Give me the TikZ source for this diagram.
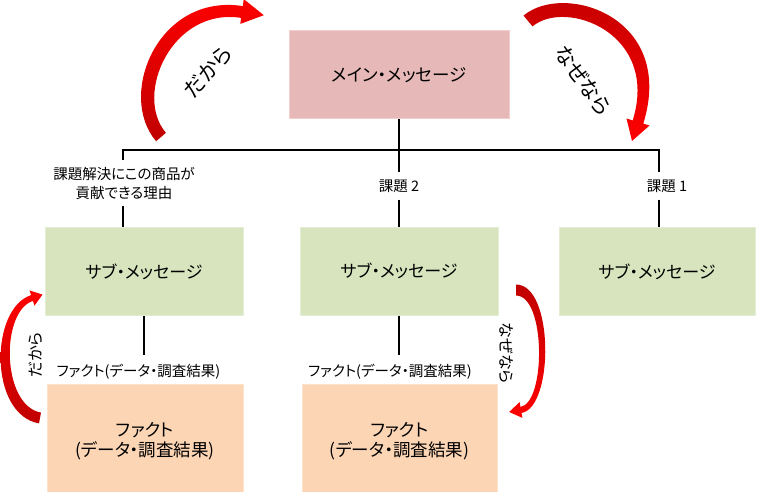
\documentclass[tikz,border=0pt]{standalone}
\usepackage{fontspec}
\setmainfont{Noto Sans CJK JP}[RawFeature={+palt}]
\usetikzlibrary{calc}
\definecolor{mainfill}{HTML}{E6B9B8}
\definecolor{mainline}{HTML}{F2CFCF}
\definecolor{subfill}{HTML}{D7E4BD}
\definecolor{subline}{HTML}{E4ECD4}
\definecolor{factfill}{HTML}{FCD5B5}
\definecolor{factline}{HTML}{FDE2CC}
\definecolor{arrdark}{HTML}{C00000}
\definecolor{arrlight}{HTML}{FF0000}
\begin{document}
\begin{tikzpicture}[x=1pt,y=-1pt,
  mainbox/.style={draw=mainline, fill=mainfill, line width=1pt, inner sep=0pt,
    minimum width=220pt, minimum height=88pt, font=\fontsize{17.5}{20}\selectfont},
  subbox/.style={draw=subline, fill=subfill, line width=1pt, inner sep=0pt,
    minimum width=#1, minimum height=88pt, font=\fontsize{17}{20}\selectfont},
  factbox/.style={draw=factline, fill=factfill, line width=1pt, inner sep=0pt,
    minimum width=196pt, minimum height=114pt, align=center,
    font=\fontsize{17.5}{20}\selectfont},
  lbl/.style={inner xsep=0pt, inner ysep=7pt, align=center,
    font=\fontsize{14.5}{19}\selectfont},
  conn/.style={line width=1.5pt, black},
  arrtxt/.style={inner sep=0pt, font=\fontsize{#1}{#1}\selectfont}
]
\fill[white] (0,0) rectangle (757,492);
\useasboundingbox (0,0) rectangle (757,492);

% boxes
\node[mainbox] (main) at (399,75) {メイン・メッセージ};
\node[subbox=198pt] (sub1) at (144,271.5) {サブ・メッセージ};
\node[subbox=198pt] (sub2) at (399,271) {サブ・メッセージ};
\node[subbox=196pt] (sub3) at (657,271.5) {サブ・メッセージ};
\node[factbox] (fact1) at (145,441) {ファクト\\(データ・調査結果)};
\node[factbox, minimum width=195pt] (fact2) at (399.5,441) {ファクト\\(データ・調査結果)};

% labels
\node[lbl] (lab1) at (124,183) {課題解決にこの商品が\\貢献できる理由};
\node[lbl] (lab2) at (399,186) {課題 2};
\node[lbl] (lab3) at (667,186) {課題 1};
\node[lbl, inner ysep=9pt] (flab1) at (138.5,372) {ファクト(データ・調査結果)};
\node[lbl, inner ysep=9pt] (flab2) at (390,372) {ファクト(データ・調査結果)};

% connectors
\coordinate (j) at (399,150);
\coordinate (jl) at (123,150);
\coordinate (jr) at (659,150);
\draw[conn] (main.south) -- (j);
\draw[conn] (jl |- lab1.north) -- (jl) -- (jr) -- (jr |- lab3.north);
\draw[conn] (j) -- (j |- lab2.north);
\draw[conn] (jl |- lab1.south) -- (jl |- sub1.north);
\draw[conn] (j |- lab2.south) -- (sub2.north);
\draw[conn] (jr |- lab3.south) -- (jr |- sub3.north);
\draw[conn] (sub1.south) -- (sub1.south |- flab1.north);
\draw[conn] (sub2.south) -- (sub2.south |- flab2.north);

% big arrow: だから
\shade[top color=arrlight, bottom color=arrdark]
  (156.1,141.2) .. controls (116.5,95) and (158.2,-7.1) .. (242.9,6.1)
  -- (243.7,-0.9) -- (263.8,15.2) -- (240.3,23.9) -- (241.1,17.9)
  .. controls (171.8,7.1) and (133.5,95) .. (165.9,132.8) -- cycle;
\node[arrtxt=21, rotate=48] (t1) at (208,72) {だから};

% big arrow: なぜなら
\shade[top color=arrdark, bottom color=arrlight]
  (523.5,15.6) .. controls (564.2,-18.5) and (676.3,16.9) .. (643.3,123.6)
  -- (649.5,125.5) -- (632,141) -- (626.5,118.5) -- (632.7,120.4)
  .. controls (659.7,33.1) and (565.8,-1.5) .. (532.5,26.4) -- cycle;
\node[arrtxt=21, rotate=-54] (t2) at (583,80) {なぜなら};

% small arrow: だから
\shade[top color=arrlight, bottom color=arrdark]
  (39,423.4) .. controls (-11.4,414.4) and (-10.3,308.5) .. (31.1,295.1)
  -- (29.5,290.4) -- (42.5,294.6) -- (34.5,305.6) -- (32.9,300.9)
  .. controls (0.3,311.5) and (1.4,405.6) .. (41,412.6) -- cycle;
\node[arrtxt=16, rotate=90] (t3) at (36,355) {だから};

% small arrow: なぜなら
\shade[top color=arrdark, bottom color=arrlight]
  (516,284.5) .. controls (554.1,284.5) and (554,407.4) .. (521.5,413)
  -- (522.4,417.9) -- (509.2,412) -- (519.6,402.1) -- (520.5,407)
  .. controls (546,402.6) and (545.9,295.5) .. (516,295.5) -- cycle;
\node[arrtxt=16, rotate=-90] (t4) at (506,353) {なぜなら};
\end{tikzpicture}
\end{document}
